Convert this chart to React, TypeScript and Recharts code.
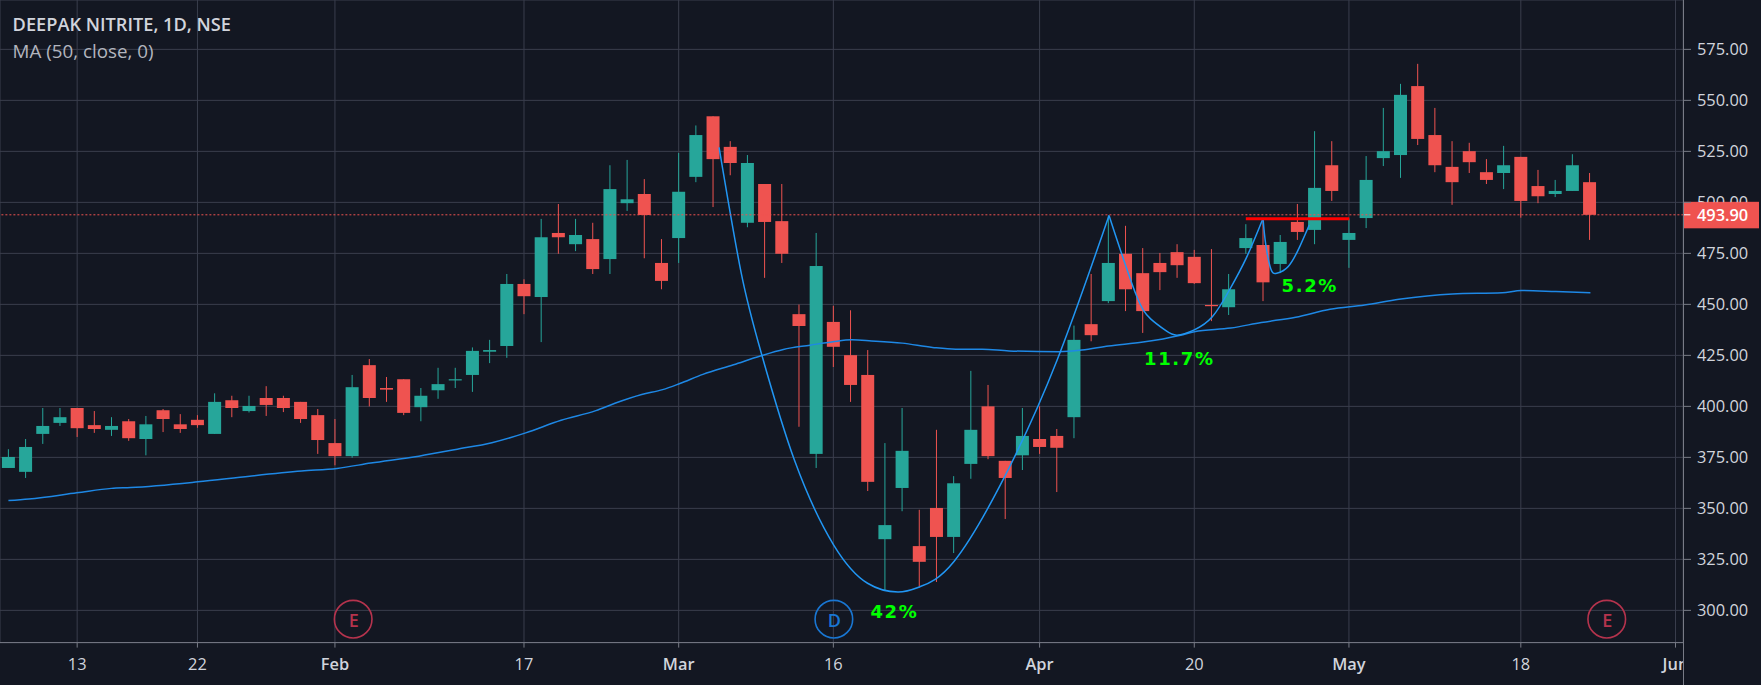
import React from 'react';
import { ComposedChart, Bar, Line, XAxis, YAxis, CartesianGrid, ReferenceLine, ReferenceDot } from 'recharts';

const opens = [369.8,367.9,386.5,391.9,399.2,390.8,388.5,392.7,384,398.1,391.2,393.4,386.5,403,397.7,404.1,404.1,402.2,395.7,382,375.6,420.2,409,413.3,399.6,407.9,412.9,415.4,426.8,429.6,460,453.6,485,479.5,482,472.2,499.6,504.1,470.3,482.5,512.5,542.2,527.2,490,509,490.8,445.2,376.7,441.4,425.1,415.4,334.9,360,331.5,350.2,336,371.8,400,373.3,376,384,385.5,394.7,440.3,451.6,474.8,465.3,470.3,475.6,473.3,449.7,448.6,477.6,479.1,469.8,490.4,486.5,518.2,481.6,492.3,521.7,523.2,557,533,517.4,525.1,514.8,514.4,522.3,508,504.1,505.6,509.9];
const highs = [379,384,399.2,399.2,399.2,397.7,394.7,393.8,395.3,398.7,396.2,395.7,406.4,405.2,405.2,409.9,405.2,402.2,398.7,393.8,415.4,423.2,414.4,413.3,409,418.9,418.9,428.9,432.6,464.9,462.3,491.9,499.2,491.9,490,518.2,520.8,511.4,482,524.2,537.7,542.2,530,523.2,509,509,449.9,485,449.3,447.1,427.6,382,399.2,349.3,388.5,365.8,417.4,410.5,373.3,399.2,400,388.9,439.6,464.9,493.6,488.5,477.6,475.2,479.5,476.7,477.1,464.9,489.3,492.1,484,499.2,534.9,530,492.1,522.7,546.3,558.1,567.9,546.3,530,529.2,521.2,527.7,522.3,515.9,511,523.6,514.4];
const lows = [369.8,364.9,381.6,390.4,385,387,385.5,383.1,376,387.4,387,389.5,386.5,394.7,397,395.3,397.2,391.9,376.7,371.1,374.8,400,402.2,395.7,392.7,403.7,409,407.1,421.2,423.8,445.2,431.5,474.8,476.1,464.9,464.9,495.8,472.6,457.4,470.3,509.9,497.7,513.3,487.8,463,470.3,390,369.8,419.3,402.2,358.5,309.6,348.6,311.2,313.9,328.1,364.5,374.1,344.8,368.8,376.7,358,384.4,431.9,450.6,446.7,436,457,463,460,441.8,444.8,474.8,451.6,465.3,481.6,479.5,500.7,467.9,487.4,517.8,512,528.1,514.8,498.8,514.4,509,506.5,492.5,499.6,502.6,505.6,481.6];
const closes = [375.2,380.1,390.4,394.7,389.3,388.9,390.4,384.4,391.2,393.8,388.9,390.8,402.2,399.2,400.2,400.7,399.2,393.8,383.5,375.6,409.4,404.1,408.2,396.8,405.2,410.9,413.3,427.2,427.6,460,454,482.9,482.9,484,467.3,506.5,501.5,493.8,461.5,505.2,533,521.2,519.3,519.3,490.4,474.8,439.4,468.8,429.2,410.5,363,341.8,378.2,323.8,336,362.3,388.5,375.6,364.9,385.5,380.1,379.7,432.6,434.9,470.3,457.4,446.7,465.8,469.2,460.4,449.3,457.4,482.5,460.8,480.6,485.5,507.1,505.6,485,511,525.1,552.7,531.1,518.2,509.9,519.7,511,518.2,500.7,503,505.6,518.2,493.9];

const maX = [0,1.19,3.98,5.99,7.11,11.02,14.04,17.06,19.12,21.09,23.88,26.12,28.13,30.1,32.16,34.18,35.29,36.85,38.07,39.07,40.41,42.19,43.75,45.09,46.65,47.98,49.09,50.21,52,53.77,55.11,56.67,58.22,61.12,62.46,64.01,66.02,68.2,69,71.12,72.9,74.9,76.9,78.91,80.91,84.03,86.92,88.04,90.04,92.05];
const maY = [353.8,354.6,357.6,359.8,360.2,363,365.8,368.3,369.6,372.2,375.6,379,382.2,387,393.2,397.9,401.5,405.8,408.2,411.2,415.7,420.4,424.7,427.9,430,431.7,432.6,432.1,431,428.9,428,428,427.2,426.8,427.6,429.6,431.5,434.9,436.6,438.4,441.1,443.7,447.6,449.7,452.5,455.1,455.7,456.8,456.3,455.7];

const cupX = [41.35,42.64,43.82,45.75,48.03,49.99,51.77,53.04,55.02,57.98,61.01,64.04];
const cupY = [527,465.3,425.7,373.3,331.9,313.3,309,311.6,324,365.8,422.5,493.6];
const secondCupX = [64.04,65.57,66.46,67.35,68,69,70.05,71.03,72.03,73];
const secondCupY = [493.6,455.7,442.9,437.1,434.9,437.5,443.9,456.8,472.8,492.1];
const handleX = [73,73.16,73.45,73.8,74.47,75.13,75.69];
const handleY = [492.1,479.3,467.5,465.3,468.6,478.2,488.9];
const pivotX = [72,78.02];
const pivotY = [492,492];

const xTicks = [4,11,19,30,39,48,60,69,78,88,97];
const xLabels = ['13','22','Feb','17','Mar','16','Apr','20','May','18','Jun'];
const yTicks = [300,325,350,375,400,425,450,475,500,525,550,575];
const lastPrice = 493.9;
const notes = [
  { idx: 51.55, price: 299.6, text: '42%' },
  { idx: 68.13, price: 423.6, text: '11.7%' },
  { idx: 75.72, price: 459.1, text: '5.2%' },
];
const events = [
  { idx: 20.06, price: 295.7, text: 'E', color: '#b5334d' },
  { idx: 48.03, price: 295.7, text: 'D', color: '#1976d2' },
  { idx: 93, price: 295.7, text: 'E', color: '#b5334d' },
];

const candles = opens.map((o, i) => ({ idx: i, open: o, high: highs[i], low: lows[i], close: closes[i], range: [lows[i], highs[i]] }));
const toPts = (xs: number[], ys: number[]) => xs.map((x, i) => ({ idx: x, price: ys[i] }));

const UP = '#26a69a';
const DOWN = '#ef5350';
const FONT = '"Open Sans", sans-serif';
const W = 1761, H = 685, RIGHT = 77.6, BOTTOM = 42.4;
const PLOT_W = W - RIGHT;
const BODY_W = 13;

const Candle = (p: any) => {
  const { x, y, width, height, payload } = p;
  const span = payload.high - payload.low || 1;
  const k = height / span;
  const top = y + (payload.high - Math.max(payload.open, payload.close)) * k;
  const bot = y + (payload.high - Math.min(payload.open, payload.close)) * k;
  const color = payload.close >= payload.open ? UP : DOWN;
  const cx = x + (width || 0) / 2;
  return (
    <g>
      <line x1={cx} x2={cx} y1={y} y2={y + height} stroke={color} strokeWidth={1} />
      <rect x={cx - BODY_W / 2} y={top} width={BODY_W} height={Math.max(bot - top, 1.2)} fill={color} />
    </g>
  );
};

const XTick = (p: any) => {
  const { x, y, payload } = p;
  const label = xLabels[xTicks.indexOf(payload.value)];
  const major = /[A-Z]/.test(label);
  return (
    <svg x={0} y={y - 2} width={PLOT_W} height={40} style={{ overflow: 'hidden' }}>
      <text x={x} y={22} textAnchor="middle" fontFamily={FONT} fontSize={16.4} fontWeight={major ? 600 : 400} fill="#d1d4dc">{label}</text>
    </svg>
  );
};

const YTick = (p: any) => {
  const { x, y, payload } = p;
  const label = Number(payload.value).toFixed(2);
  const t = <text x={x} y={20 + 6} fontFamily={FONT} fontSize={16.4} fill="#d1d4dc">{label}</text>;
  return (
    <svg x={0} y={y - 20} width={W} height={payload.value === 500 ? 20 : 40} style={{ overflow: 'hidden' }}>{t}</svg>
  );
};

const PriceTag = (p: any) => {
  const { viewBox } = p;
  const yy = viewBox.y;
  const xx = viewBox.x + viewBox.width;
  return (
    <g>
      <rect x={xx} y={yy - 13} width={75.6} height={26.5} fill={DOWN} />
      <line x1={xx} x2={xx + 7} y1={yy} y2={yy} stroke="#ffffff" />
      <text x={xx + 13.5} y={yy + 6} fontFamily={FONT} fontSize={16.4} fontWeight={600} fill="#ffffff">{lastPrice.toFixed(2)}</text>
    </g>
  );
};

const Note = (text: string) => (p: any) => (
  <text x={p.cx} y={p.cy} textAnchor="middle" dominantBaseline="central" fontFamily='"DejaVu Sans", sans-serif' fontWeight={700} fontSize={18} letterSpacing={1.6} fill="#00ff00">{text}</text>
);

const Ev = (text: string, color: string) => (p: any) => (
  <g>
    <circle cx={p.cx} cy={p.cy} r={18.8} fill="none" stroke={color} strokeWidth={1.6} />
    <text x={p.cx + 0.5} y={p.cy + 1} textAnchor="middle" dominantBaseline="central" fontFamily={FONT} fontWeight={600} fontSize={18} fill={color}>{text}</text>
  </g>
);

const lineProps = { dataKey: 'price', dot: false, isAnimationActive: false, activeDot: false, legendType: 'none' } as any;

export default function App() {
  return (
    <div style={{ position: 'absolute', left: 0, top: 0, width: W, height: H, background: '#131722', overflow: 'hidden' }}>
      <ComposedChart width={W} height={H} data={candles} margin={{ top: 0, right: 0, bottom: 0, left: 0 }}>
        <CartesianGrid stroke="#3a3e4d" strokeWidth={1} />
        <XAxis dataKey="idx" type="number" domain={[-0.489, 97.46]} allowDataOverflow ticks={xTicks} interval={0} tickSize={5} stroke="#787b86" tick={<XTick />} height={BOTTOM} />
        <YAxis orientation="right" type="number" domain={[284.2, 599.2]} allowDataOverflow ticks={yTicks} interval={0} tickSize={7.6} tickMargin={6} width={RIGHT} stroke="#787b86" tick={<YTick />} />
        <Bar dataKey="range" barSize={BODY_W} shape={Candle} isAnimationActive={false} />
        <Line {...lineProps} data={toPts(maX, maY)} type="monotone" stroke="#1e88e5" strokeWidth={1.5} />
        <Line {...lineProps} data={toPts(cupX, cupY)} type="natural" stroke="#2196f3" strokeWidth={1.5} />
        <Line {...lineProps} data={toPts(secondCupX, secondCupY)} type="natural" stroke="#2196f3" strokeWidth={1.5} />
        <Line {...lineProps} data={toPts(handleX, handleY)} type="natural" stroke="#2196f3" strokeWidth={1.5} />
        <Line {...lineProps} data={toPts(pivotX, pivotY)} type="linear" stroke="#ff0000" strokeWidth={3} />
        <ReferenceLine y={lastPrice} stroke={DOWN} strokeWidth={1} strokeDasharray="2 2" label={<PriceTag />} />
        {notes.map((n) => (
          <ReferenceDot key={n.text} x={n.idx} y={n.price} r={1} shape={Note(n.text)} />
        ))}
        {events.map((e) => (
          <ReferenceDot key={e.idx} x={e.idx} y={e.price} r={1} shape={Ev(e.text, e.color)} />
        ))}
      </ComposedChart>
      <div style={{ position: 'absolute', left: 1683, top: 0, width: 1, height: H, background: '#787b86' }} />
      <div style={{ position: 'absolute', left: 12.6, top: 12, fontFamily: FONT, fontWeight: 600, fontSize: 18.2, lineHeight: '24px', color: '#d1d4dc', whiteSpace: 'nowrap' }}>DEEPAK NITRITE, 1D, NSE</div>
      <div style={{ position: 'absolute', left: 12.6, top: 38, fontFamily: FONT, fontSize: 18.8, lineHeight: '26px', color: '#b2b5be', whiteSpace: 'nowrap' }}>MA (50, close, 0)</div>
    </div>
  );
}
